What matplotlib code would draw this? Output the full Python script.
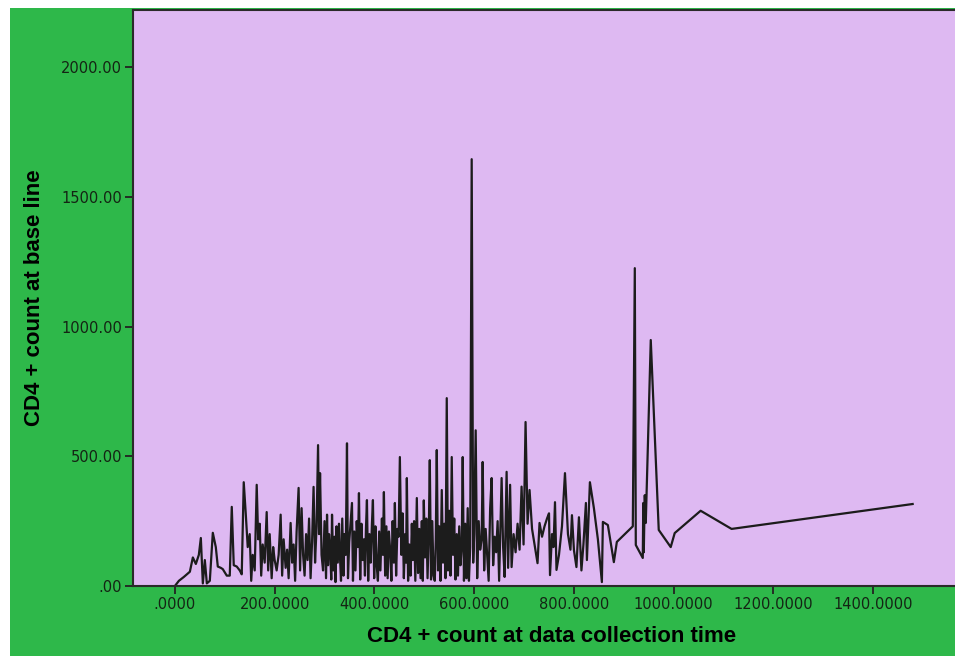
import numpy as np
import matplotlib.pyplot as plt
from matplotlib.patches import Rectangle

# CD4 count at data collection time (x) vs CD4 count at base line (y),
# kept in pieces along the x axis
x_low = [0, 8, 18, 30, 36, 42, 48, 52, 56, 60, 64, 70, 76, 82, 86, 92, 96, 104, 110, 114,
         118, 124, 130, 134, 138]
y_low = [0, 20, 35, 55, 110, 85, 120, 185, 10, 100, 10, 20, 205, 150, 75, 70, 65, 40, 40, 305,
         80, 75, 60, 45, 400]

x_b = [142, 146, 150, 153, 156, 160, 164, 167, 170, 173, 176, 180, 184, 187, 190, 194,
       197, 200, 204, 208, 212, 215, 218, 222, 225, 228, 232, 235, 238, 241, 244, 248,
       251, 254, 257, 260, 263, 266, 269, 272, 275, 278, 281, 284, 287, 289, 291, 294,
       297, 300]
y_b = [280, 150, 200, 20, 120, 60, 390, 180, 240, 40, 160, 90, 285, 60, 200, 30,
       150, 100, 60, 120, 275, 40, 180, 70, 140, 30, 243, 90, 160, 20, 210, 378,
       60, 300, 120, 40, 200, 100, 260, 30, 170, 382, 90, 230, 543, 200, 435, 120,
       60, 250]

x_c = [303, 305, 307, 309, 311, 313.5, 315, 317.5, 320, 322, 324, 326.5, 329, 331, 333,
       335.5, 338, 340, 342.5, 345, 347, 349.5, 352, 355, 357, 359.5, 362, 364.5, 367, 369,
       371.5, 374, 376.5, 379, 381, 383, 385, 387.5, 390, 392.5, 395, 397, 399.5, 402, 404.5,
       407, 409.5, 412, 415, 417, 419, 421.5, 424, 426.5, 429, 431.5, 434, 436.5, 439, 441,
       443.5, 446, 448.5, 451]
y_c = [30, 275, 80, 200, 150, 25, 275, 60, 190, 15, 230, 90, 240, 110, 20,
       260, 40, 200, 120, 550, 30, 170, 240, 320, 20, 210, 60, 250, 150, 358,
       25, 240, 100, 180, 40, 220, 331, 20, 200, 90, 240, 331, 30, 230, 80,
       20, 210, 60, 260, 120, 362, 40, 230, 30, 210, 140, 20, 250, 90, 320,
       40, 220, 190, 497]

x_d = [454, 456.5, 459, 461.5, 463.5, 465, 467.5, 470, 472.5, 475, 477, 479.5, 482, 485,
       487.5, 490, 492.5, 495, 497, 499, 501.5, 504, 506.5, 509, 511, 513.5, 516, 518.5,
       521, 523, 525, 527.5, 530, 532.5, 535, 537.5, 540, 542.5, 545, 547.5, 550, 552.5,
       555, 557.5, 560, 562.5, 565, 567.5, 570, 572.5, 575, 577, 579.5, 582, 584.5, 587,
       589.5, 592, 595, 598]
y_d = [120, 280, 30, 200, 90, 416, 20, 160, 40, 240, 100, 250, 20, 339,
       50, 220, 30, 250, 20, 330, 110, 260, 30, 210, 485, 25, 250, 40,
       20, 180, 524, 60, 230, 20, 370, 90, 240, 30, 724, 60, 290, 40,
       497, 120, 260, 25, 200, 40, 230, 80, 150, 497, 20, 240, 30, 300,
       20, 150, 1645, 90]

x_e = [600, 603, 606, 609, 612, 615, 617, 620, 623, 626, 629, 632, 635, 638, 641, 644,
       647, 650, 655, 658, 661, 665, 668, 672, 675, 679, 683, 687, 691, 695, 699, 703,
       707, 711, 716, 721, 727, 731, 736, 741, 746, 750, 752, 756, 759, 762, 765, 770,
       776, 782, 788, 793, 796, 800, 805, 810, 815, 819, 824, 826, 832, 840, 848, 856]
y_e = [200, 600, 30, 250, 140, 180, 478, 60, 220, 120, 20, 300, 416, 80, 190, 130,
       250, 20, 416, 150, 35, 440, 70, 390, 73, 200, 130, 240, 140, 383, 160, 632,
       240, 370, 220, 160, 88, 243, 190, 230, 260, 280, 42, 200, 150, 323, 62, 120,
       230, 435, 200, 140, 273, 138, 73, 265, 60, 160, 320, 100, 400, 300, 180, 15]

x_high = [858, 868, 880, 886, 918, 922, 924, 938, 939, 940, 942, 944, 954, 970, 994, 1002,
          1054, 1116, 1479]
y_high = [247, 235, 92, 170, 230, 1225, 158, 108, 320, 130, 350, 243, 948, 216, 150, 204,
          290, 220, 316]

x_ticks = [0, 200, 400, 600, 800, 1000, 1200, 1400]
x_tick_labels = ['.0000', '200.0000', '400.0000', '600.0000', '800.0000',
                 '1000.0000', '1200.0000', '1400.0000']
y_ticks = [0, 500, 1000, 1500, 2000]
y_tick_labels = ['.00', '500.00', '1000.00', '1500.00', '2000.00']

GREEN = '#2eb84a'
LAVENDER = '#deb9f2'
DARK = '#1c1c1c'

x_all = x_low + x_b + x_c + x_d + x_e + x_high
y_all = y_low + y_b + y_c + y_d + y_e + y_high

fig = plt.figure(figsize=(9.55, 6.56), dpi=100)
fig.patch.set_facecolor('white')
fig.add_artist(Rectangle((10 / 955, 0), 1, 648 / 656, transform=fig.transFigure,
                         facecolor=GREEN, edgecolor='none', zorder=-10))

ax = fig.add_axes([133 / 955, 70 / 656, 837 / 955, 576 / 656])
ax.set_facecolor(LAVENDER)
ax.plot(x_all, y_all, color=DARK, linewidth=1.6)

ax.set_xlim(-84, 1594)
ax.set_ylim(0, 2220)

ax.set_xticks(x_ticks)
ax.set_xticklabels(x_tick_labels)
ax.set_yticks(y_ticks)
ax.set_yticklabels(y_tick_labels)
ax.tick_params(direction='out', length=6, width=1.3, color='#222222',
               labelsize=10.5, labelcolor='#142414', pad=2)
for lab in ax.get_xticklabels() + ax.get_yticklabels():
    lab.set_family('DejaVu Sans')

for side in ['left', 'bottom', 'top']:
    ax.spines[side].set_color('#2a2a2a')
    ax.spines[side].set_linewidth(1.5)
ax.spines['right'].set_visible(False)

label_font = ['Liberation Sans', 'DejaVu Sans']
fig.text(552 / 955, 1 - 636 / 656, 'CD4 + count at data collection time',
         ha='center', va='center', fontsize=16, fontweight='bold', family=label_font)
fig.text(35 / 955, 1 - 298 / 656, 'CD4 + count at base line', rotation=90,
         ha='center', va='center', fontsize=16, fontweight='bold', family=label_font)

fig.savefig('out.png', dpi=100, facecolor=fig.get_facecolor())
